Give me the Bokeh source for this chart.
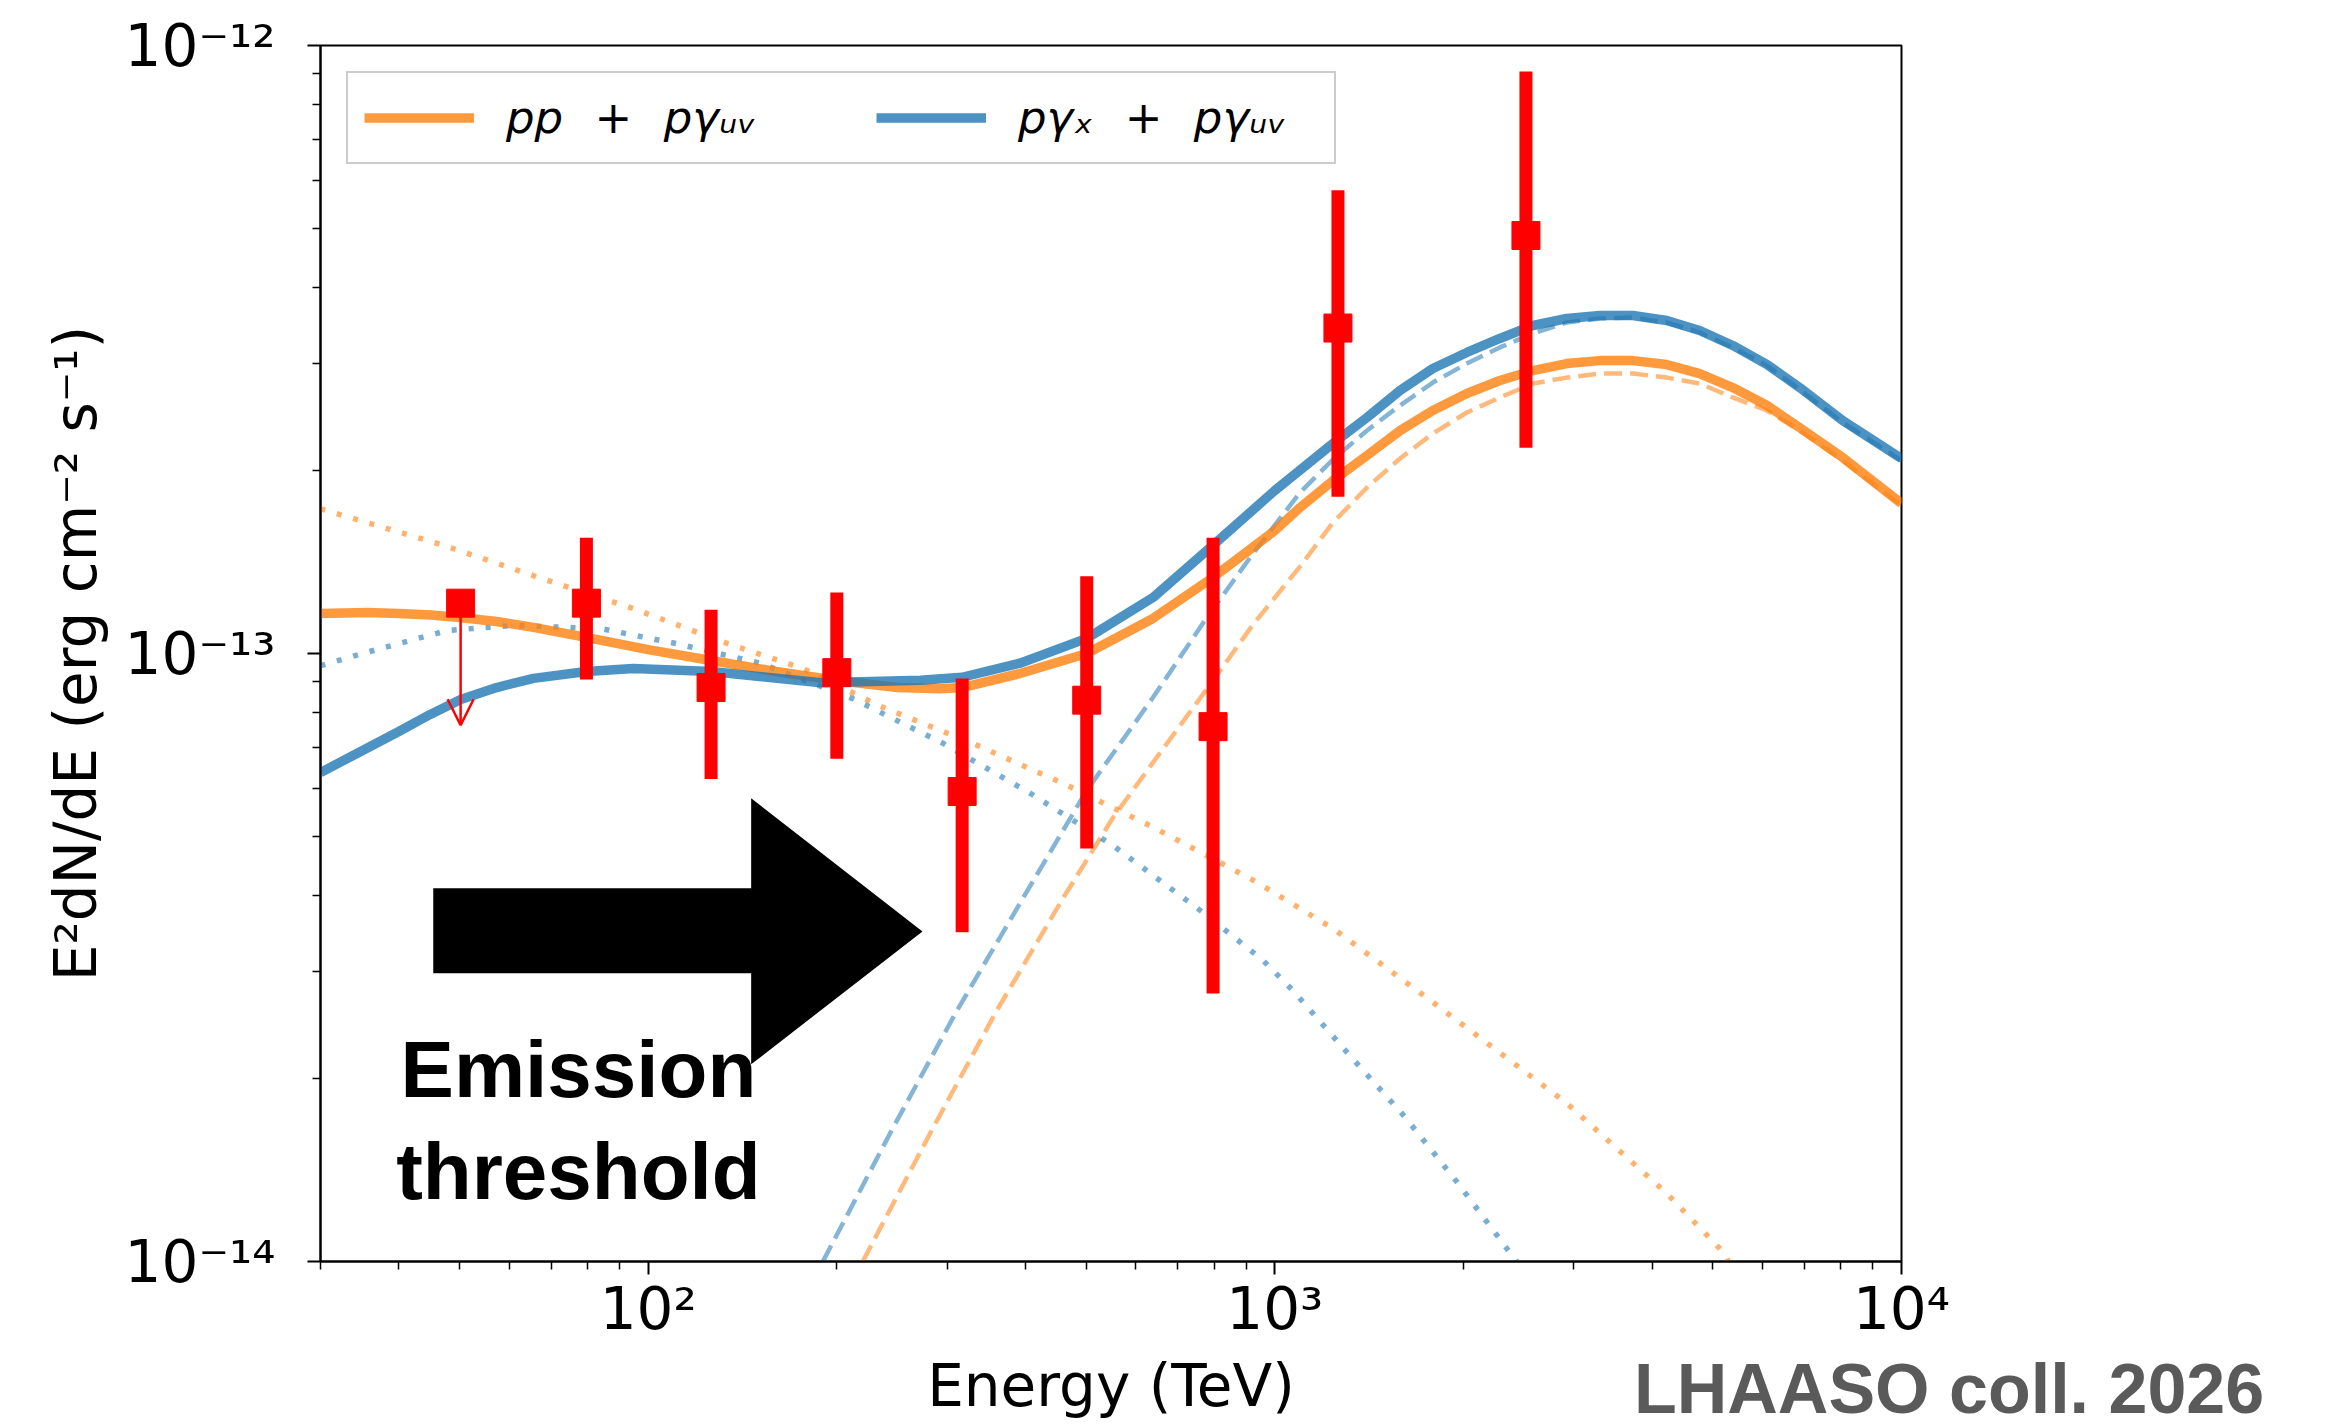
from bokeh.plotting import figure
from bokeh.layouts import column
from bokeh.models import (ColumnDataSource, Range1d, FixedTicker, CustomJSTickFormatter,
                          Legend, LegendItem, Arrow, OpenHead, PolyAnnotation, Label, Div)
from bokeh.embed import file_html
from bokeh.resources import INLINE

# ---------------- measured points (E in TeV, E^2 dN/dE in erg cm^-2 s^-1) ----------------
pt_e = [79.7, 126, 200, 317, 501, 797, 1261, 2516]
pt_f = [1.21e-13, 8.79e-14, 9.30e-14, 5.93e-14, 8.38e-14, 7.58e-14, 3.43e-13, 4.87e-13]
pt_lo = [9.06e-14, 6.22e-14, 6.71e-14, 3.48e-14, 4.78e-14, 2.76e-14, 1.81e-13, 2.18e-13]
pt_hi = [1.55e-13, 1.18e-13, 1.26e-13, 9.10e-14, 1.34e-13, 1.55e-13, 5.78e-13, 9.06e-13]

# upper limit
ul_e = [50.2]
ul_f = [1.21e-13]
ul_tip = [7.62e-14]

# ---------------- model curves ----------------
# pp + p-gamma_UV (orange)
or_tot_e = [30, 35.7, 40, 45, 50, 57.3, 65.6, 80, 100, 126, 160, 200, 250, 292, 317, 392, 501, 639,
            797, 1000, 1097, 1238, 1403, 1584, 1787, 2025, 2286, 2580, 2924, 3301, 3726, 4221,
            4764, 5379, 6095, 6879, 8054, 10000]
or_tot_f = [1.164e-13, 1.168e-13, 1.164e-13, 1.157e-13, 1.146e-13, 1.129e-13, 1.104e-13, 1.062e-13,
            1.015e-13, 9.74e-14, 9.34e-14, 9.03e-14, 8.79e-14, 8.75e-14, 8.79e-14, 9.27e-14,
            1.0e-13, 1.142e-13, 1.334e-13, 1.593e-13, 1.738e-13, 1.925e-13, 2.117e-13, 2.326e-13,
            2.510e-13, 2.677e-13, 2.812e-13, 2.920e-13, 2.998e-13, 3.032e-13, 3.032e-13, 2.987e-13,
            2.887e-13, 2.738e-13, 2.56e-13, 2.352e-13, 2.101e-13, 1.765e-13]
or_pp_e = [30, 47.1, 70.6, 94.6, 134, 177, 234, 330, 460, 639, 923, 1238, 1787, 2924, 4221, 5223, 5290]
or_pp_f = [1.730e-13, 1.507e-13, 1.309e-13, 1.186e-13, 1.038e-13, 9.44e-14, 8.20e-14, 7.11e-14,
           6.11e-14, 5.18e-14, 4.24e-14, 3.53e-14, 2.67e-14, 1.82e-14, 1.294e-14, 1.03e-14, 1.0e-14]
or_uv_e = [220, 285, 360, 460, 552, 639, 797, 923, 1097, 1238, 1403, 1584, 1787, 2025, 2286, 2580,
           2924, 3301, 3726, 4221, 4764, 5379, 6095, 6879, 8054, 10000]
or_uv_f = [1.0e-14, 1.661e-14, 2.587e-14, 3.969e-14, 5.373e-14, 6.616e-14, 9.028e-14, 1.116e-13,
           1.390e-13, 1.642e-13, 1.875e-13, 2.093e-13, 2.300e-13, 2.491e-13, 2.637e-13, 2.780e-13,
           2.843e-13, 2.887e-13, 2.887e-13, 2.843e-13, 2.780e-13, 2.637e-13, 2.510e-13, 2.327e-13,
           2.077e-13, 1.752e-13]

# p-gamma_X + p-gamma_UV (blue)
bl_tot_e = [30, 35.7, 40, 44.9, 50.2, 57.3, 65.6, 79.7, 94.7, 126, 189, 272, 317, 392, 501, 639,
            797, 1000, 1238, 1403, 1584, 1787, 2025, 2286, 2580, 2924, 3301, 3726, 4221, 4764,
            5379, 6095, 6879, 8054, 10000]
bl_tot_f = [6.37e-14, 7.00e-14, 7.44e-14, 7.94e-14, 8.40e-14, 8.79e-14, 9.10e-14, 9.34e-14,
            9.45e-14, 9.34e-14, 8.95e-14, 9.04e-14, 9.14e-14, 9.64e-14, 1.059e-13, 1.236e-13,
            1.507e-13, 1.854e-13, 2.215e-13, 2.444e-13, 2.707e-13, 2.943e-13, 3.127e-13, 3.297e-13,
            3.463e-13, 3.556e-13, 3.597e-13, 3.597e-13, 3.529e-13, 3.398e-13, 3.211e-13, 2.99e-13,
            2.738e-13, 2.416e-13, 2.093e-13]
bl_x_e = [30, 35.6, 47.8, 60.9, 84, 111, 151, 212, 296, 406, 552, 768, 957, 1069, 1318, 1612, 1954,
          2346, 2432]
bl_x_f = [9.55e-14, 1.005e-13, 1.091e-13, 1.112e-13, 1.099e-13, 1.038e-13, 9.64e-14, 8.43e-14,
          7.11e-14, 5.90e-14, 4.83e-14, 3.75e-14, 3.13e-14, 2.79e-14, 2.18e-14, 1.73e-14, 1.35e-14,
          1.05e-14, 1.0e-14]
bl_uv_e = [190, 246, 311, 397, 501, 639, 779, 923, 1097, 1238, 1403, 1584, 1787, 2025, 2286, 2580,
           2924, 3301, 3726, 4221, 4764, 5379, 6095, 6879, 8054, 10000]
bl_uv_f = [1.0e-14, 1.661e-14, 2.587e-14, 3.969e-14, 5.954e-14, 8.465e-14, 1.146e-13, 1.460e-13,
           1.840e-13, 2.085e-13, 2.327e-13, 2.558e-13, 2.790e-13, 2.999e-13, 3.187e-13, 3.360e-13,
           3.503e-13, 3.556e-13, 3.569e-13, 3.503e-13, 3.373e-13, 3.187e-13, 2.975e-13, 2.718e-13,
           2.399e-13, 2.077e-13]

x_major = [100, 1000, 10000]
x_minor = [30, 40, 50, 60, 70, 80, 90, 200, 300, 400, 500, 600, 700, 800, 900,
           2000, 3000, 4000, 5000, 6000, 7000, 8000, 9000]
y_major = [1e-14, 1e-13, 1e-12]
y_minor = [2e-14, 3e-14, 4e-14, 5e-14, 6e-14, 7e-14, 8e-14, 9e-14,
           2e-13, 3e-13, 4e-13, 5e-13, 6e-13, 7e-13, 8e-13, 9e-13]

legend_labels = ["pp\u2002\u2009+\u2002\u2009p\u03b3\u1d64\u1d65",
                 "p\u03b3\u2093\u2002\u2009+\u2002\u2009p\u03b3\u1d64\u1d65"]

# ---------------- styling ----------------
ORANGE = "#ff7f0e"
BLUE = "#1f77b4"
FONT = "DejaVu Sans"

p = figure(x_axis_type="log", y_axis_type="log",
           x_range=Range1d(30, 1e4), y_range=Range1d(1e-14, 1e-12),
           frame_width=1581, frame_height=1216,
           min_border_left=320, min_border_top=45, min_border_right=400, min_border_bottom=166,
           output_backend="svg", toolbar_location=None,
           x_axis_label="Energy (TeV)",
           y_axis_label="E\u00b2dN/dE (erg cm\u207b\u00b2 s\u207b\u00b9)")
p.background_fill_color = "white"
p.border_fill_color = "white"
p.grid.visible = False
p.outline_line_color = "black"
p.outline_line_width = 2
p.outline_line_alpha = 1

fmt = CustomJSTickFormatter(code="""
const e = Math.round(Math.log10(tick));
const sup = {"-":"\u207b","0":"\u2070","1":"\u00b9","2":"\u00b2","3":"\u00b3","4":"\u2074",
             "5":"\u2075","6":"\u2076","7":"\u2077","8":"\u2078","9":"\u2079"};
return "10" + String(e).split("").map(c => sup[c]).join("");
""")
p.xaxis.ticker = FixedTicker(ticks=x_major, minor_ticks=x_minor)
p.yaxis.ticker = FixedTicker(ticks=y_major, minor_ticks=y_minor)
for ax in (p.xaxis[0], p.yaxis[0]):
    ax.formatter = fmt
    ax.axis_line_width = 2
    ax.axis_line_color = "black"
    ax.major_tick_line_width = 2
    ax.minor_tick_line_width = 1.5
    ax.major_tick_out = 13
    ax.major_tick_in = 0
    ax.minor_tick_out = 8
    ax.minor_tick_in = 0
    ax.major_label_text_font = FONT
    ax.major_label_text_font_size = "58px"
    ax.major_label_text_color = "black"
    ax.axis_label_text_font = FONT
    ax.axis_label_text_font_size = "58px"
    ax.axis_label_text_font_style = "normal"
    ax.axis_label_text_color = "black"
p.xaxis.major_label_standoff = 0
p.xaxis.axis_label_standoff = 6
p.yaxis.major_label_standoff = 32
p.yaxis.axis_label_standoff = 12

# component curves
p.line(or_uv_e, or_uv_f, line_color=ORANGE, line_alpha=0.55, line_width=4.5, line_dash="18 8")
p.line(bl_uv_e, bl_uv_f, line_color=BLUE, line_alpha=0.55, line_width=4.5, line_dash="18 8")
p.line(or_pp_e, or_pp_f, line_color=ORANGE, line_alpha=0.6, line_width=5.5, line_dash="5 12")
p.line(bl_x_e, bl_x_f, line_color=BLUE, line_alpha=0.6, line_width=5.5, line_dash="5 12")
# totals
r_or = p.line(or_tot_e, or_tot_f, line_color=ORANGE, line_alpha=0.8, line_width=9.5, line_join="round")
r_bl = p.line(bl_tot_e, bl_tot_f, line_color=BLUE, line_alpha=0.8, line_width=9.5, line_join="round")

# data
src = ColumnDataSource(dict(e=pt_e, f=pt_f, lo=pt_lo, hi=pt_hi))
p.segment(x0="e", y0="lo", x1="e", y1="hi", source=src, line_color="red", line_width=13)
p.scatter("e", "f", source=src, marker="square", size=28, fill_color="red", line_color="red")

ul_src = ColumnDataSource(dict(e=ul_e, f=ul_f, tip=ul_tip))
p.add_layout(Arrow(x_start="e", y_start="f", x_end="e", y_end="tip", source=ul_src,
                   line_color="red", line_width=2.5,
                   end=OpenHead(size=26, line_color="red", line_width=2.5)))
p.scatter("e", "f", source=ul_src, marker="square", size=28, fill_color="red", line_color="red")

# emission-threshold arrow (annotation)
p.add_layout(PolyAnnotation(
    xs=[45.4, 146, 146, 274, 146, 146, 45.4],
    ys=[4.11e-14, 4.11e-14, 5.78e-14, 3.49e-14, 2.11e-14, 2.98e-14, 2.98e-14],
    fill_color="black", fill_alpha=1.0, line_color=None))
for txt, yy in (("Emission", 2.07e-14), ("threshold", 1.406e-14)):
    p.add_layout(Label(x=77.4, y=yy, text=txt, text_align="center", text_baseline="alphabetic",
                       text_font="Liberation Sans", text_font_style="bold",
                       text_font_size="80px", text_color="black"))

legend = Legend(items=[LegendItem(label=legend_labels[0], renderers=[r_or]),
                       LegendItem(label=legend_labels[1], renderers=[r_bl])],
                orientation="horizontal", location="top_left", margin=26, padding=16,
                spacing=70, glyph_width=110, glyph_height=57, label_standoff=32,
                label_width=300, label_height=57,
                label_text_font=FONT, label_text_font_style="italic",
                label_text_font_size="45px", label_text_color="black",
                border_line_color="#cccccc", border_line_width=2, border_line_alpha=1,
                background_fill_color="white", background_fill_alpha=0.8)
p.add_layout(legend)

credit_style = ("font-family: 'Liberation Sans'; font-weight: bold; font-size: 70px; "
                "line-height: 70px; color: #5a5a5a; white-space: nowrap;")
credit = Div(text='<span style="%s">LHAASO coll. 2026</span>' % credit_style,
             width=660, height=60, margin=(-73, 0, 0, 1634),
             styles={"font-family": "Liberation Sans", "font-weight": "bold",
                     "font-size": "70px", "line-height": "70px", "color": "#5a5a5a",
                     "white-space": "nowrap", "overflow": "visible"})

layout = column(p, credit, spacing=0)
open("out.html", "w", encoding="utf-8").write(file_html(layout, INLINE))
